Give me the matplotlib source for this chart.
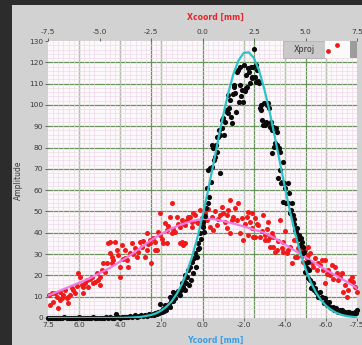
"""
LabVIEW style projection plot: Xproj / Yproj with gaussian fits
"""
import matplotlib
matplotlib.use('Agg')
import matplotlib.pyplot as plt
from matplotlib.ticker import MultipleLocator
from matplotlib.patches import Rectangle

plt.rcParams['axes.unicode_minus'] = False
plt.rcParams['font.family'] = 'DejaVu Sans'

# black points (x in Xcoord mm, amplitude)
black_x = [-7.5, -7.4, -7.3, -7.2, -7.1, -7.0, -6.9, -6.8, -6.7, -6.6, -6.5, -6.4, -6.3, -6.2, -6.1,
           -6.0, -5.9, -5.8, -5.7, -5.6, -5.5, -5.4, -5.3, -5.2, -5.1, -5.0, -4.9, -4.8, -4.7, -4.6,
           -4.5, -4.4, -4.3, -4.2, -4.1, -4.0, -3.9, -3.8, -3.7, -3.6, -3.5, -3.4, -3.3, -3.2, -3.1,
           -3.0, -2.9, -2.8, -2.7, -2.6, -2.5, -2.4, -2.35, -2.3, -2.2, -2.15, -2.1,
           -2.05, -2.0, -1.95, -1.9, -1.85, -1.84, -1.8, -1.75, -1.7, -1.65, -1.6, -1.58, -1.55,
           -1.5, -1.45, -1.43, -1.4, -1.35, -1.3, -1.26, -1.2, -1.15, -1.09, -1.05, -1.0, -0.95,
           -0.9, -0.85, -0.83, -0.78, -0.74, -0.69, -0.66, -0.6, -0.55, -0.52, -0.47, -0.42, -0.36,
           -0.33, -0.28, -0.24, -0.2, -0.15, -0.12, -0.06, 0.0, 0.04, 0.08, 0.12, 0.16, 0.21, 0.25,
           0.28, 0.32, 0.36, 0.4, 0.44, 0.47, 0.52, 0.56, 0.6, 0.64, 0.69, 0.72, 0.77, 0.81, 0.85,
           0.86, 0.93, 0.97, 1.01, 1.05, 1.09, 1.13, 1.18, 1.22, 1.26, 1.3, 1.34, 1.38, 1.42, 1.46,
           1.51, 1.55, 1.58, 1.63, 1.68, 1.72, 1.76, 1.8, 1.84, 1.88, 1.93, 1.97, 2.01, 2.05, 2.09,
           2.13, 2.17, 2.21, 2.25, 2.29, 2.34, 2.38, 2.42, 2.46, 2.5, 2.54, 2.58, 2.62, 2.66, 2.7,
           2.74, 2.78, 2.82, 2.86, 2.9, 2.94, 2.99, 3.03, 3.07, 3.11, 3.15, 3.19, 3.23, 3.27, 3.31,
           3.35, 3.39, 3.43, 3.47, 3.51, 3.55, 3.6, 3.64, 3.66, 3.7, 3.74, 3.78, 3.8, 3.85, 3.89,
           3.92, 3.96, 4.0, 4.05, 4.13, 4.17, 4.21, 4.26, 4.3, 4.34, 4.38, 4.42, 4.46, 4.5, 4.55,
           4.6, 4.65, 4.7, 4.74, 4.78, 4.82, 4.86, 4.9, 4.94, 4.98, 5.02, 5.06, 5.1, 5.14, 5.18,
           5.22, 5.26, 5.3, 5.35, 5.4, 5.46, 5.52, 5.58, 5.63, 5.7, 5.76, 5.82, 5.88, 5.94, 6.0,
           6.06, 6.13, 6.2, 6.26, 6.33, 6.4, 6.46, 6.53, 6.6, 6.66, 6.72, 6.79, 6.86, 6.92, 6.98,
           7.05, 7.12, 7.18, 7.25, 7.32, 7.38, 7.44, 7.5]
black_y = [0, 0, 0.2, 0, 0, 0.2, 0, 0, 0.3, 0, 0, 0.2, 0, 0, 0,
           0.3, 0, 0, 0.2, 0, 0, 0, 0.3, 0, 0, 0.2, 0, 0, 0.3, 0,
           0.4, 0.2, 0, 1.7, 0.3, 0.2, 0.5, 0.3, 0.6, 0.4, 0.8, 0.5, 1.2, 0.7, 1.0,
           1.3, 0.8, 1.5, 1.1, 1.8, 1.3, 2.0, 1.6, 2.4, 1.8, 3.0, 2.2,
           6.5, 3.2, 2.6, 4.0, 3.5, 6.1, 4.8, 3.9, 5.6, 6.5, 10.0, 5.2, 7.8,
           9.2, 8.0, 12.3, 10.5, 9.5, 11.8, 11.7, 12.5, 11.2, 10.8, 13.2, 16.3, 14.5,
           17.5, 20.0, 13.0, 16.5, 19.2, 22.5, 15.5, 23.8, 17.8, 26.4, 21.0, 28.0, 30.4,
           24.0, 28.8, 32.5, 35.0, 33.0, 39.8, 37.0, 42.5, 45.0, 40.5, 48.0, 51.5, 60.9, 54.0,
           69.5, 57.0, 70.3, 64.0, 81.2, 71.0, 79.7, 74.0, 75.7, 81.2, 85.1, 78.1, 85.1, 88.0, 85.9,
           67.9, 89.0, 93.0, 93.8, 85.9, 92.2, 97.7, 96.9, 96.0, 104.7, 98.4, 102.3, 94.5, 91.4, 105.3,
           109.4, 108.4, 105.5, 96.9, 115.6, 116.3, 101.6, 118.0, 109.4, 104.0, 107.0, 101.6, 118.7, 106.3, 114.1,
           107.8, 108.6, 117.1, 115.6, 110.1, 117.9, 113.3, 112.5, 118.0, 126.2, 113.2, 118.8, 110.8, 116.4, 111.0,
           110.1, 98.4, 97.7, 100.0, 93.0, 90.6, 100.8, 90.6, 92.2, 100.0, 91.4, 100.8, 98.4, 89.8, 92.2,
           88.0, 77.3, 89.8, 80.4, 82.0, 89.0, 81.2, 87.5, 65.6, 79.7, 69.5, 78.1, 63.2, 64.0, 73.4,
           54.6, 63.2, 60.9, 53.9, 63.2, 53.9, 58.5, 49.1, 50.7, 53.9, 48.4, 44.0, 46.5, 41.3, 40.5,
           42.1, 37.0, 39.0, 34.3, 37.4, 35.8, 33.5, 30.4, 31.1, 21.7, 25.7, 23.5, 18.6, 26.4, 22.5,
           17.8, 13.9, 14.7, 16.3, 13.1, 13.9, 12.3, 11.6, 10.0, 12.3, 9.2, 10.0, 6.9, 9.2, 7.6,
           6.1, 7.6, 5.3, 4.6, 5.3, 3.8, 4.6, 3.8, 3.0, 3.8, 3.0, 3.8, 2.2, 3.0, 2.2,
           2.6, 3.0, 1.9, 2.2, 1.9, 2.6, 2.2, 3.8]

# red points (Xproj)
red_x = [-7.44, -7.4, -7.32, -7.24, -7.16, -7.08, -7.0, -6.92, -6.92, -6.84, -6.75, -6.67, -6.59, -6.51,
         -6.51, -6.43, -6.35, -6.27, -6.19, -6.11, -6.03, -5.95, -5.86, -5.79, -5.79, -5.7, -5.62, -5.54,
         -5.46, -5.38, -5.3, -5.22, -5.14, -5.06, -4.98, -4.98, -4.89, -4.82, -4.73, -4.65, -4.57, -4.49,
         -4.49, -4.41, -4.41, -4.33, -4.25, -4.17, -4.09, -4.0, -4.0, -3.92, -3.84, -3.76, -3.76, -3.68,
         -3.6, -3.52, -3.44, -3.36, -3.28, -3.2, -3.11, -3.03, -2.95, -2.87, -2.79, -2.71, -2.71, -2.63,
         -2.55, -2.55, -2.48, -2.39, -2.31, -2.31, -2.23, -2.15, -2.06, -2.06, -1.98, -1.9, -1.82, -1.74,
         -1.74, -1.66, -1.58, -1.5, -1.5, -1.42, -1.34, -1.25, -1.17, -1.09, -1.09, -1.01, -1.01, -0.93,
         -0.93, -0.85, -0.85, -0.77, -0.69, -0.61, -0.52, -0.52, -0.45, -0.36, -0.28, -0.2, -0.12, -0.04,
         0.04, 0.12, 0.2, 0.28, 0.36, 0.44, 0.52, 0.6, 0.69, 0.77, 0.85, 0.93, 1.01, 1.09, 1.18, 1.18,
         1.26, 1.34, 1.34, 1.42, 1.5, 1.58, 1.66, 1.74, 1.82, 1.9, 1.98, 2.06, 2.15, 2.23, 2.23, 2.31,
         2.39, 2.39, 2.47, 2.55, 2.55, 2.63, 2.71, 2.79, 2.87, 2.95, 3.03, 3.03, 3.11, 3.19, 3.19, 3.28,
         3.28, 3.36, 3.44, 3.44, 3.52, 3.6, 3.68, 3.76, 3.84, 3.93, 3.93, 4.01, 4.09, 4.17, 4.26, 4.33,
         4.42, 4.49, 4.58, 4.58, 4.66, 4.74, 4.82, 4.9, 4.98, 5.06, 5.14, 5.14, 5.22, 5.3, 5.38, 5.46,
         5.54, 5.62, 5.7, 5.79, 5.87, 5.95, 5.95, 6.03, 6.11, 6.19, 6.27, 6.35, 6.43, 6.51, 6.59, 6.68,
         6.76, 6.83, 6.92, 7.0, 7.08, 7.16, 7.24, 7.32, 7.4, 7.48]
red_y = [10.8, 6.1, 11.6, 7.6, 11.6, 10.0, 4.6, 12.3, 8.4, 9.5, 11.0, 13.1, 9.2, 6.9,
         10.0, 10.8, 13.9, 13.1, 11.6, 15.0, 21.0, 19.4, 15.5, 11.6, 14.7, 16.5, 17.8, 14.7,
         18.5, 19.4, 16.3, 17.0, 21.0, 18.0, 15.5, 19.4, 22.5, 25.7, 21.7, 25.7, 35.0, 30.4,
         35.8, 25.7, 28.8, 27.0, 35.8, 31.9, 29.6, 24.1, 19.4, 34.3, 27.5, 31.9, 28.0, 27.2,
         24.1, 30.4, 35.0, 30.0, 32.7, 28.8, 31.0, 35.8, 33.5, 36.0, 28.8, 31.9, 39.7, 34.5,
         35.0, 36.6, 25.7, 37.4, 31.9, 35.8, 31.9, 40.5, 38.9, 49.1, 37.0, 35.0, 44.4, 35.0,
         41.3, 43.0, 47.5, 39.7, 54.1, 42.0, 40.5, 47.5, 44.0, 35.0, 42.8, 46.0, 35.8, 44.4,
         34.3, 35.0, 43.6, 46.0, 47.5, 47.5, 42.8, 45.2, 49.1, 48.3, 45.2, 44.4, 50.5, 47.0,
         43.5, 49.5, 46.0, 51.0, 42.8, 47.5, 41.3, 50.0, 43.6, 46.5, 48.3, 52.0, 49.1, 45.0, 48.3, 42.1,
         50.5, 55.4, 39.7, 46.0, 47.5, 51.5, 46.0, 54.1, 39.7, 46.8, 36.6, 44.0, 47.5, 49.9, 38.9, 45.0,
         49.1, 42.1, 38.1, 46.8, 38.1, 44.0, 43.6, 38.1, 41.0, 48.3, 38.9, 36.6, 42.0, 45.2, 36.6, 33.5,
         38.1, 40.0, 38.1, 33.5, 31.1, 31.9, 36.0, 46.0, 33.0, 35.8, 31.1, 41.0, 30.4, 31.9, 33.5, 25.7,
         36.6, 28.8, 28.8, 36.6, 33.0, 31.9, 29.0, 26.4, 31.9, 28.0, 29.6, 33.5, 30.4, 25.7, 24.0, 28.0,
         22.5, 26.0, 24.9, 27.2, 22.5, 27.2, 16.3, 20.5, 22.5, 20.2, 25.0, 18.5, 24.1, 21.0, 17.8, 19.4,
         21.0, 12.3, 15.5, 10.0, 13.1, 17.8, 19.4, 17.0, 14.5, 12.0]

# fitted curves
cyan_x = [-7.5, -7.0, -6.5, -6.0, -5.5, -5.0, -4.5, -4.0, -3.5, -3.0, -2.5, -2.25, -2.0, -1.75,
          -1.5, -1.25, -1.0, -0.75, -0.5, -0.25, 0.0, 0.25, 0.5, 0.75, 1.0, 1.25, 1.5, 1.75, 2.0,
          2.25, 2.5, 2.75, 3.0, 3.25, 3.5, 3.75, 4.0, 4.25, 4.5, 4.75, 5.0, 5.25, 5.5, 5.75, 6.0,
          6.25, 6.5, 6.75, 7.0, 7.25, 7.5]
cyan_y = [0, 0, 0, 0, 0, 0, 0, 0.05, 0.2, 0.5, 1.4, 2.2, 3.5, 5.3,
          7.8, 11.3, 15.9, 21.7, 29.0, 37.6, 47.8, 59.0, 70.9, 83.1, 94.9, 105.6, 114.5, 120.9, 124.4,
          124.7, 121.9, 116.0, 107.5, 97.2, 85.5, 73.4, 61.3, 49.9, 39.6, 30.6, 23.1, 16.9, 12.1, 8.4, 5.7,
          3.8, 2.4, 1.5, 0.9, 0.6, 0.3]
pink_x = [-7.5, -7.0, -6.5, -6.0, -5.5, -5.0, -4.5, -4.0, -3.5, -3.0, -2.5, -2.0, -1.5, -1.0,
          -0.5, 0.0, 0.5, 1.0, 1.5, 2.0, 2.5, 3.0, 3.5, 4.0, 4.5, 5.0, 5.5, 6.0, 6.5, 7.0, 7.5]
pink_y = [10.5, 12.5, 14.5, 16.5, 18.5, 21.0, 23.5, 26.5, 29.5, 33.0, 36.5, 39.5, 42.0, 44.0,
          45.5, 46.5, 46.5, 45.5, 44.3, 43.0, 41.5, 40.0, 37.5, 34.5, 31.5, 28.5, 25.5, 22.5, 19.8, 17.0, 14.0]

top_ticks = [-7.5, -5.0, -2.5, 0.0, 2.5, 5.0, 7.5]
bottom_ticks = [7.5, 6.0, 4.0, 2.0, 0.0, -2.0, -4.0, -6.0, -7.5]
amp_ticks = list(range(0, 131, 10))

W, H = 362, 345
fig = plt.figure(figsize=(W / 100, H / 100), dpi=100, facecolor='#2c2c2c')


def fx(px):
    return px / W


def fy(py):
    return 1 - py / H


# grey front panel, behind the axes
fig.patches.append(Rectangle((fx(12), 0), 1 - fx(12), fy(5), transform=fig.transFigure,
                             facecolor='#d2d2d2', edgecolor='none', zorder=-5))

ax = fig.add_axes([fx(48), fy(318), 309 / W, 277 / H])
ax.set_facecolor('#fdf8fb')
ax.set_xlim(-7.5, 7.5)
ax.set_ylim(0, 130)

# minor grid
ax.xaxis.set_minor_locator(MultipleLocator(0.25))
ax.yaxis.set_minor_locator(MultipleLocator(2))
ax.grid(which='minor', color='#ead9e5', lw=0.45, zorder=0)
ax.tick_params(which='minor', length=0)
# major grid (both x axes)
for v in [-6, -4, -2.5, -2, 0, 2, 2.5, 4, 5, 6]:
    ax.axvline(v, color='#67955b', lw=0.9, zorder=0.5)
for v in amp_ticks[1:-1]:
    ax.axhline(v, color='#67955b', lw=0.9, zorder=0.5)
ax.set_axisbelow(True)

ax.scatter(red_x, red_y, s=13, color='#f01a1a', lw=0, zorder=2, clip_on=False)
ax.plot(pink_x, pink_y, color='#f27ae4', lw=1.6, zorder=3)
ax.scatter(black_x, black_y, s=14, color='#0a0a0a', lw=0, zorder=4, clip_on=False)
ax.plot(cyan_x, cyan_y, color='#2cc3c6', lw=1.6, zorder=5)

for s in ax.spines.values():
    s.set_visible(False)

tick_kw = dict(labelsize=5.3, labelcolor='#3a3a3a', color='#555555', width=0.6, length=2.5)
ax.xaxis.tick_top()
ax.set_xticks(top_ticks)
ax.set_xticklabels(['%.1f' % t for t in top_ticks])
ax.tick_params(axis='x', which='major', pad=2, **tick_kw)
ax.set_yticks(amp_ticks)
ax.tick_params(axis='y', which='major', pad=1, **tick_kw)

sec = ax.secondary_xaxis('bottom', functions=(lambda v: -v, lambda v: -v))
sec.set_xticks(bottom_ticks)
sec.set_xticklabels(['%.1f' % t for t in bottom_ticks])
sec.tick_params(axis='x', pad=0.5, **tick_kw)
for s in sec.spines.values():
    s.set_visible(False)

fig.text(fx(215), fy(17), 'Xcoord [mm]', color='#e8242c', fontsize=5.6, fontweight='bold',
         ha='center', va='center')
fig.text(fx(215), fy(340), 'Ycoord [mm]', color='#3a9ee6', fontsize=5.6, fontweight='bold',
         ha='center', va='center')
fig.text(fx(18), fy(180), 'Amplitude', color='#3a3a3a', fontsize=5.5, rotation=90,
         ha='center', va='center')

# legend box
fig.patches.append(Rectangle((fx(283), fy(58)), 42 / W, 17 / H, transform=fig.transFigure,
                             facecolor='#c9c9c9', edgecolor='#a8a8a8', lw=0.5, zorder=6))
fig.patches.append(Rectangle((fx(325), fy(58)), 25 / W, 17 / H, transform=fig.transFigure,
                             facecolor='#fafafa', edgecolor='none', zorder=6))
fig.patches.append(Rectangle((fx(350), fy(58)), 7 / W, 17 / H, transform=fig.transFigure,
                             facecolor='#9c9c9c', edgecolor='none', zorder=6))
fig.text(fx(304), fy(49.5), 'Xproj', color='#333333', fontsize=5.8, ha='center', va='center',
         zorder=7)
leg = fig.add_axes([fx(325), fy(58), 25 / W, 17 / H])
leg.set_zorder(8)
leg.set_xlim(0, 25)
leg.set_ylim(17, 0)
leg.axis('off')
leg.scatter([2.5, 12], [10, 4], s=12, color='#f01a1a', lw=0)

fig.savefig('out.png', dpi=100, facecolor=fig.get_facecolor())
